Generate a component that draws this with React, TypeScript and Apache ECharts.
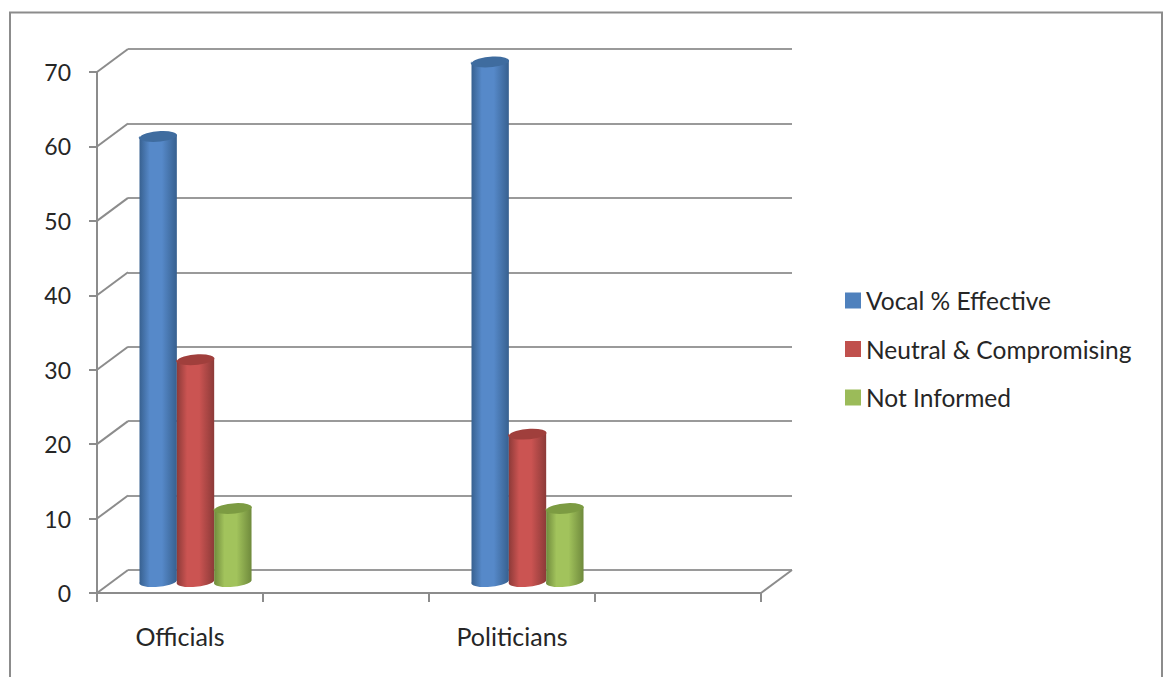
import React, { useEffect, useRef } from "react";
import * as echarts from "echarts";

const categories = ["Officials", "", "Politicians", ""];
const seriesNames = ["Vocal % Effective", "Neutral & Compromising", "Not Informed"];
const vocalEffective = [60, null, 70, null];
const neutralCompromising = [30, null, 20, null];
const notInformed = [10, null, 10, null];
const yTicks = [0, 10, 20, 30, 40, 50, 60, 70];

const FONT = "Lato";
const TEXT = "#262626";
const LINE = "#8c8c8c";
const DEPTH_X = 31;
const DEPTH_Y = 23;

// Shades of each cylinder: flat legend colour, rim, centre of the body, top cap.
const palette = [
  { flat: "#4f81bd", rim: "#37608f", mid: "#5689c9", cap: "#3f6c9f" },
  { flat: "#c0504d", rim: "#8c3a38", mid: "#cb5452", cap: "#a03f3c" },
  { flat: "#9bbb59", rim: "#6f8a3c", mid: "#a2c35c", cap: "#7c9b42" },
];

function cylinder(color: (typeof palette)[number], slot: number) {
  return (params: any, api: any) => {
    const cat = api.value(0);
    const val = api.value(1);
    const band = api.size([1, 0])[0];
    const w = band * 0.2249;
    const top = api.coord([cat, val]);
    const base = api.coord([cat, 0]);
    const cx = top[0] + DEPTH_X / 2 + slot * w;
    const yTop = top[1] - 10.5;
    const yBase = base[1] - 12.5;
    const x0 = cx - w / 2;
    const x1 = cx + w / 2;
    const rx = w / 2;
    const ry = 5.5;
    const tilt = 1.6;
    const body =
      `M ${x0} ${yTop + tilt} L ${x0} ${yBase + tilt} ` +
      `A ${rx} ${ry} -5 0 0 ${x1} ${yBase - tilt} L ${x1} ${yTop - tilt} ` +
      `A ${rx} ${ry} -5 0 1 ${x0} ${yTop + tilt} Z`;
    const cap =
      `M ${x0} ${yTop + tilt} A ${rx} ${ry} -5 0 1 ${x1} ${yTop - tilt} ` +
      `A ${rx} ${ry} -5 0 1 ${x0} ${yTop + tilt} Z`;
    return {
      type: "group",
      children: [
        {
          type: "path",
          shape: { pathData: body },
          style: {
            fill: new echarts.graphic.LinearGradient(0, 0, 1, 0, [
              { offset: 0, color: color.rim },
              { offset: 0.28, color: color.mid },
              { offset: 0.6, color: color.mid },
              { offset: 1, color: color.rim },
            ]),
          },
        },
        { type: "path", shape: { pathData: cap }, style: { fill: color.cap } },
      ],
    };
  };
}

// Receding edges joining the front axes to the back wall.
function depthEdge(params: any, api: any) {
  const sys = params.coordSys;
  const y = api.coord([0, api.value(0)])[1];
  const x = api.value(1) ? sys.x + sys.width : sys.x;
  return {
    type: "line",
    shape: { x1: x, y1: y, x2: x + DEPTH_X, y2: y - DEPTH_Y },
    style: { stroke: LINE, lineWidth: 2 },
  };
}

const valueRows = (values: (number | null)[]) =>
  values.flatMap((v, i) => (v == null ? [] : [[i, v]]));

export default function App() {
  const ref = useRef<HTMLDivElement>(null);

  useEffect(() => {
    document.body.style.margin = "0";
    document.body.style.overflow = "hidden";
    const chart = echarts.init(ref.current!, null, { renderer: "svg" });
    const groups = [vocalEffective, neutralCompromising, notInformed];
    chart.setOption({
      animation: false,
      backgroundColor: "#ffffff",
      grid: [
        { left: 97, top: 72, width: 664, height: 521 },
        { left: 128, top: 49, width: 664, height: 521 },
      ],
      legend: {
        data: seriesNames,
        orient: "vertical",
        left: 840,
        top: 283,
        icon: "rect",
        itemWidth: 16,
        itemHeight: 16,
        itemGap: 23.5,
        textStyle: { fontFamily: FONT, fontSize: 24.5, color: TEXT },
        selectedMode: false,
      },
      xAxis: [
        {
          type: "category",
          gridIndex: 0,
          data: categories,
          axisLine: { lineStyle: { color: LINE, width: 2 } },
          axisTick: { show: true, length: 9, lineStyle: { color: LINE, width: 2 }, interval: 0 },
          axisLabel: { interval: 0, margin: 30, fontFamily: FONT, fontSize: 25, color: TEXT },
        },
        {
          type: "category",
          gridIndex: 1,
          data: categories,
          show: false,
        },
      ],
      yAxis: [
        {
          type: "value",
          gridIndex: 0,
          min: 0,
          max: 70,
          interval: 10,
          axisLine: { show: true, lineStyle: { color: LINE, width: 2 } },
          axisTick: { show: true, length: 8, lineStyle: { color: LINE, width: 2 } },
          axisLabel: { margin: 26, fontFamily: FONT, fontSize: 23, color: TEXT },
          splitLine: { show: false },
        },
        {
          type: "value",
          gridIndex: 1,
          min: 0,
          max: 70,
          interval: 10,
          axisLine: { show: false },
          axisTick: { show: false },
          axisLabel: { show: false },
          splitLine: { show: true, lineStyle: { color: "#9a9a9a", width: 2 } },
        },
      ],
      graphic: [
        {
          type: "polyline",
          silent: true,
          shape: { points: [[10, 700], [10, 12.5], [1162, 12.5], [1162, 700]] },
          style: { stroke: LINE, lineWidth: 2, fill: "none" },
        },
      ],
      series: [
        {
          type: "custom",
          xAxisIndex: 0,
          yAxisIndex: 0,
          silent: true,
          z: 1,
          encode: { x: 2, y: 0 },
          data: [...yTicks.map((t) => [t, 0, 0]), [0, 1, 0]],
          renderItem: depthEdge,
        },
        ...groups.map((values, i) => ({
          type: "custom",
          name: seriesNames[i],
          xAxisIndex: 0,
          yAxisIndex: 0,
          silent: true,
          z: 3,
          itemStyle: { color: palette[i].flat },
          encode: { x: 0, y: 1 },
          data: valueRows(values),
          renderItem: cylinder(palette[i], i - 1),
        })),
      ],
    });
    return () => chart.dispose();
  }, []);

  return <div ref={ref} style={{ width: 1167, height: 677 }} />;
}
